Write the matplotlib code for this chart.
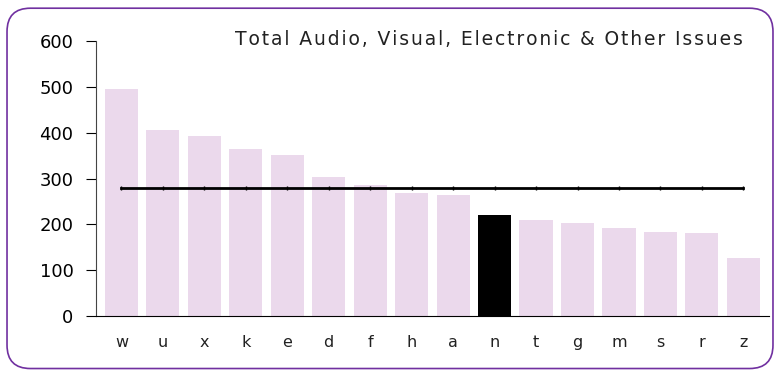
import matplotlib.pyplot as plt
from matplotlib.patches import FancyBboxPatch
import numpy as np

plt.rcParams['font.family'] = ['DejaVu Sans']

# category labels and totals
categories = ['w', 'u', 'x', 'k', 'e', 'd', 'f', 'h', 'a', 'n', 't', 'g', 'm', 's', 'r', 'z']
totals = [495, 406, 393, 365, 352, 303, 286, 269, 264, 220, 210, 203, 192, 183, 181, 127]
average = [279] * len(categories)
highlight = 'n'
yTicks = [0, 100, 200, 300, 400, 500, 600]
title = 'Total Audio, Visual, Electronic & Other Issues'

fig = plt.figure(figsize=(7.8, 3.73), dpi=100)

# rounded purple border round the whole chart
border = FancyBboxPatch((0.009, 0.012), 0.982, 0.966, boxstyle='round,pad=0,rounding_size=0.03',
                        transform=fig.transFigure, facecolor='none', edgecolor='#7030A0',
                        linewidth=1.2, mutation_aspect=780 / 373, zorder=-1)
fig.patches.append(border)

ax = fig.add_axes([0.1227, 0.1528, 0.8633, 0.7372])
ax.patch.set_alpha(0)

x = np.arange(len(categories))
colors = ['black' if c == highlight else '#EBD9EC' for c in categories]
ax.bar(x, totals, width=0.8, color=colors, zorder=2)
ax.plot(x, average, color='black', linewidth=2, marker='|', markersize=3, zorder=3)

ax.set_xlim(-0.62, len(categories) - 0.38)
ax.set_ylim(0, 600)
ax.set_yticks(yTicks)
ax.set_xticks(x)
ax.set_xticklabels(categories, fontsize=11.5, color='#222222')
ax.tick_params(axis='x', length=0, pad=14)
ax.tick_params(axis='y', direction='out', length=7, labelsize=13, pad=9, colors='black')

for side in ['top', 'right']:
    ax.spines[side].set_visible(False)
ax.spines['left'].set_color('#444444')
ax.spines['bottom'].set_color('black')

# spaced-out title like the original
fig.text(0.627, 0.893, '\u200a'.join(title), ha='center', va='center',
         fontsize=13.5, color='#222222')

plt.savefig('out.png', dpi=100)
